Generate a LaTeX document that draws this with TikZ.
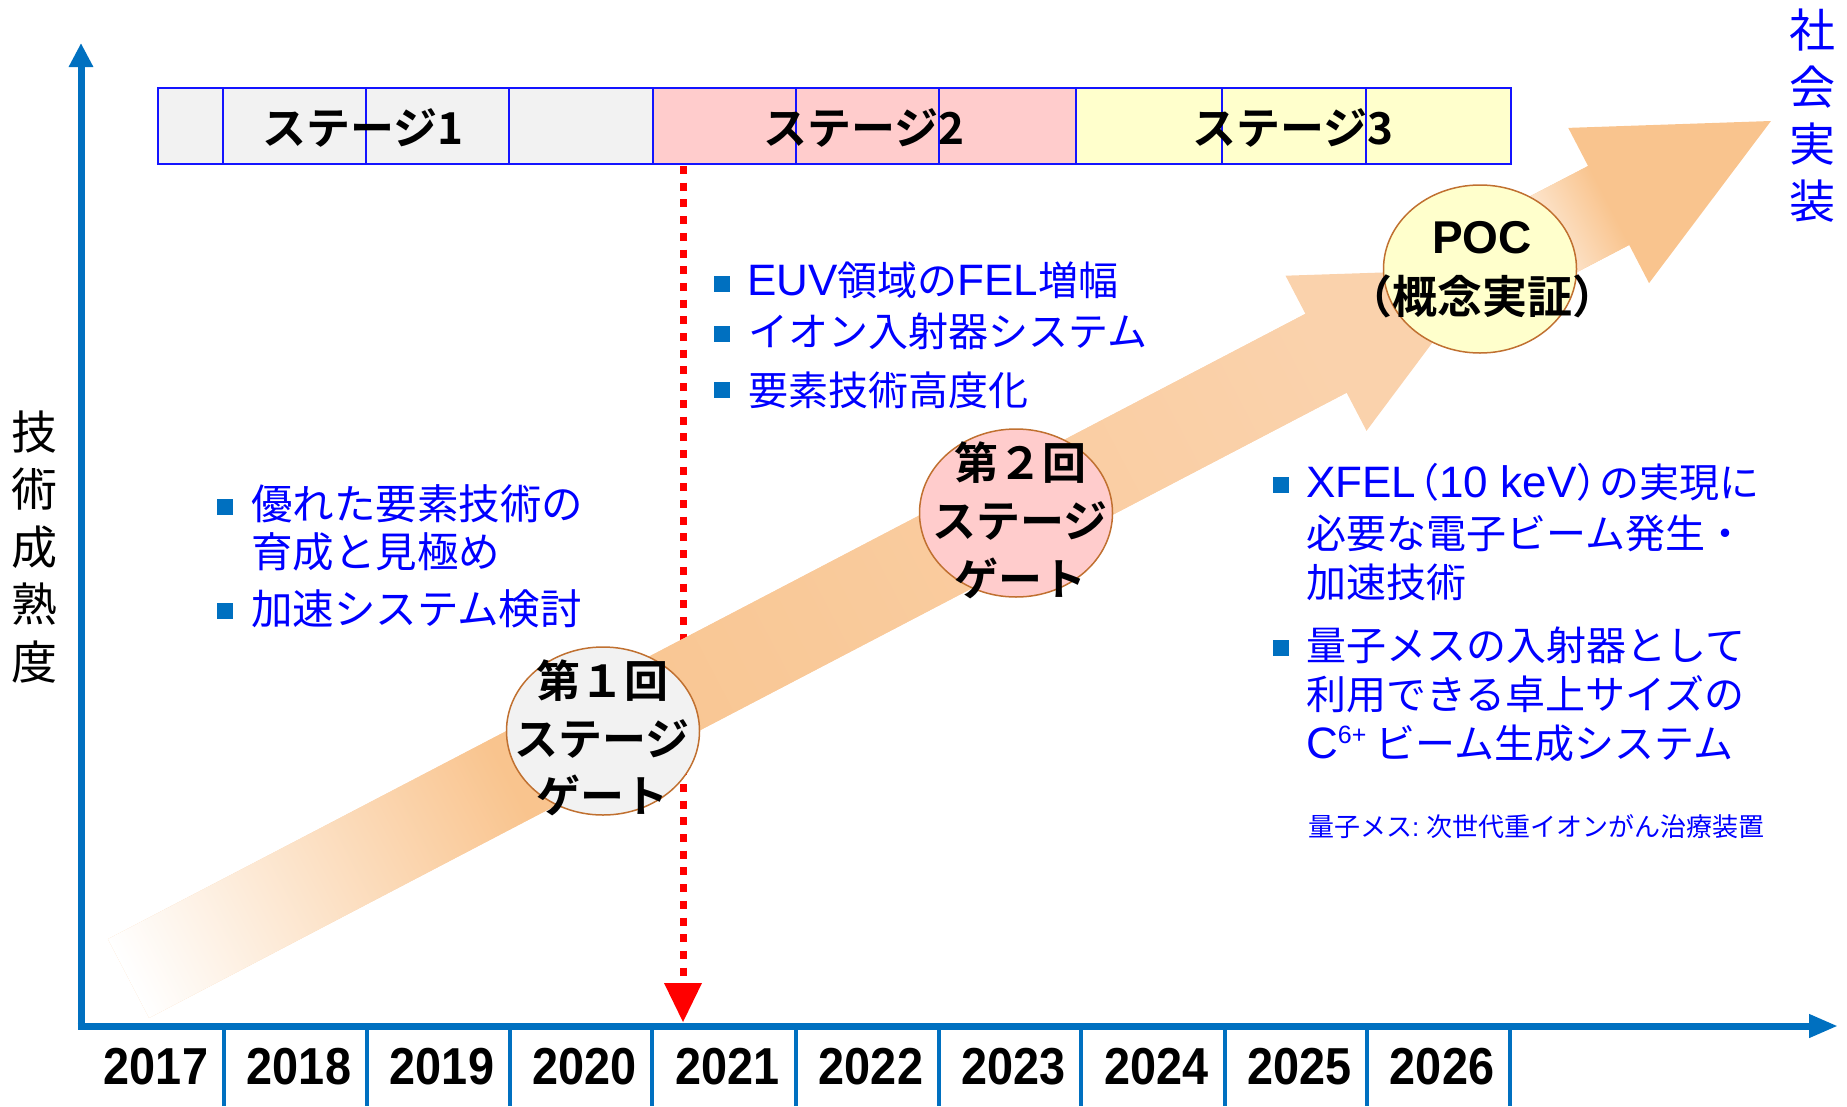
\documentclass[tikz,border=0pt]{standalone}
\usepackage{fontspec}
\usetikzlibrary{shapes.geometric,arrows.meta}
\newfontfamily\jp{Noto Sans CJK JP}[BoldFont={Noto Sans CJK JP Bold}]
\newfontfamily\lat{Liberation Sans}
\newfontfamily\yr{Liberation Sans}[FakeStretch=0.9]
\newcommand{\lt}[1]{{\lat\fontsize{44}{48}\selectfont #1}}
\definecolor{axblue}{RGB}{0,112,192}
\definecolor{barblue}{RGB}{20,20,255}
\definecolor{txtblue}{RGB}{0,0,255}
\definecolor{st1}{RGB}{242,242,242}
\definecolor{st2}{RGB}{255,204,204}
\definecolor{st3}{RGB}{255,255,204}
\definecolor{orA}{RGB}{249,196,142}
\definecolor{orB}{RGB}{250,210,172}
\definecolor{gateline}{RGB}{192,112,48}
\begin{document}
\begin{tikzpicture}[x=1pt,y=-1pt,
  jtxt/.style={inner sep=0pt, anchor=west, text height=35pt, text depth=5pt,
    font=\jp\fontsize{40}{48}\selectfont, text=txtblue},
  jtxtL/.style={jtxt, text height=36.5pt, text depth=5pt,
    font=\jp\fontsize{41.5}{48}\selectfont},
  fntxt/.style={inner sep=0pt, anchor=west, text height=22.9pt, text depth=3.1pt,
    font=\jp\fontsize{26}{30}\selectfont, text=txtblue},
  bsq/.style={fill=axblue, minimum size=16.5pt, inner sep=0pt},
  stlab/.style={inner sep=0pt, text height=38.7pt, text depth=5.3pt,
    font=\jp\bfseries\fontsize{44}{44}\selectfont},
  gateshape/.style={ellipse, draw=gateline, line width=1.5pt, minimum width=193pt,
    minimum height=168pt, inner sep=0pt},
  gtxt/.style={inner sep=0pt, text height=38.7pt, text depth=5.3pt,
    font=\jp\bfseries\fontsize{44}{44}\selectfont},
  yrlab/.style={inner sep=0pt, font=\yr\bfseries\fontsize{52}{52}\selectfont},
  vtxt/.style={inner sep=0pt, align=center, font=\jp\fontsize{46}{57.5}\selectfont}
]
\useasboundingbox (0,0) rectangle (1847,1106);

% stage bar
\foreach \a/\b/\c in {158/223/st1, 223/366/st1, 366/509/st1, 509/653/st1,
  653/796/st2, 796/939/st2, 939/1076/st2, 1076/1222/st3, 1222/1366/st3, 1366/1511/st3}
  \draw[barblue, line width=1.6pt, fill=\c] (\a,88) rectangle (\b,164);
\node[stlab] (s1) at (363,128) {ステージ1};
\node[stlab] (s2) at (864,128) {ステージ2};
\node[stlab] (s3) at (1293,128) {ステージ3};

% axes
\coordinate (O) at (81,1026);
\coordinate (Ox) at (77.5,1026);
\coordinate (ytop) at (81,43);
\coordinate (xend) at (1838,1026);
\draw[axblue, line width=7pt, -{Triangle[width=23pt,length=24pt]}] (O) -- (ytop);
\draw[axblue, line width=7pt, -{Triangle[width=22pt,length=29pt]}] (Ox) -- (xend);
\foreach \x in {224,367,510,652,796,939,1081,1225,1367,1510}
  \draw[axblue, line width=4.5pt] (\x,1029) -- (\x,1106);
\foreach \y/\x in {2017/156, 2018/299, 2019/442, 2020/584.5, 2021/727.5,
  2022/871, 2023/1013.5, 2024/1156.5, 2025/1299.5, 2026/1442}
  \node[yrlab] (y\y) at (\x,1067) {\y};

% red dotted arrow
\coordinate (rtop) at (683,166);
\coordinate (rbot) at (683,983);
\draw[red, line width=7pt, dash pattern=on 8pt off 8.7pt] (rtop) -- (rbot);
\fill[red] (664,983) -- (702,983) -- (683,1022) -- cycle;

% big band arrow 1
\begin{scope}[transform canvas={shift={(128.5,978.5)}, rotate=27.57}]
  \fill[orB] (0,-44.5) -- (1351,-44.5) -- (1351,-87.5) -- (1533,0) -- (1351,87.5) -- (1351,44.5) -- (0,44.5) -- cycle;
  \shade[left color=white, right color=orA] (0,-44.5) rectangle (430,44.5);
  \shade[left color=orA, right color=orB] (429.5,-44.5) rectangle (1351.5,44.5);
\end{scope}
% band arrow 2
\begin{scope}[transform canvas={shift={(1502.2,260.9)}, rotate=27.5}]
  \fill[orA] (0,-44.5) -- (120,-44.5) -- (120,-87.5) -- (303,0) -- (120,87.5) -- (120,44.5) -- (0,44.5) -- cycle;
  \shade[left color=white, right color=orA] (0,-44.5) rectangle (120.5,44.5);
\end{scope}

% gates
\node[gateshape, fill=st1] (g1) at (603,731) {};
\node[gtxt] (g1a) at (602,681) {第１回};
\node[gtxt] (g1b) at (602,739) {ステージ};
\node[gtxt] (g1c) at (602,796) {ゲート};

\node[gateshape, fill=st2] (g2) at (1016,513) {};
\node[gtxt] (g2a) at (1020,463) {第２回};
\node[gtxt] (g2b) at (1020,521) {ステージ};
\node[gtxt] (g2c) at (1020,579) {ゲート};

\node[gateshape, fill=st3] (g3) at (1480,269) {};
\node[inner sep=0pt, font=\lat\bfseries\fontsize{46}{46}\selectfont] (g3a) at (1482,238) {POC};
\node[gtxt, font=\jp\bfseries\fontsize{45}{45}\selectfont] (g3b) at (1482,297) {（概念実証）};

% axis labels
\node[vtxt] (ylab) at (35,547) {技\\術\\成\\熟\\度};
\node[vtxt, text=txtblue, font=\jp\fontsize{46}{57}\selectfont] (shakai) at (1812,116) {社\\会\\実\\装};

% left block
\node[bsq] (lb1) at (225,507) {};
\node[jtxtL] (lt1) at (251,504) {優れた要素技術の};
\node[jtxtL] (lt2) at (251,552) {育成と見極め};
\node[bsq] (lb2) at (225,611) {};
\node[jtxtL] (lt3) at (251,609) {加速システム検討};

% middle block
\node[bsq] (mb1) at (722,284) {};
\node[jtxt] (mt1) at (747,280) {\lt{EUV}領域の\lt{FEL}増幅};
\node[bsq] (mb2) at (722,334) {};
\node[jtxt] (mt2) at (748,331) {イオン入射器システム};
\node[bsq] (mb3) at (722,390) {};
\node[jtxt] (mt3) at (748,390) {要素技術高度化};

% right block
\node[bsq] (rb1) at (1281,485) {};
\node[jtxt] (rt1) at (1306,482) {\lt{XFEL}\kern-0.42em（\lt{10 keV}）\kern-0.42em の実現に};
\node[jtxt] (rt2) at (1306,533) {必要な電子ビーム発生・};
\node[jtxt] (rt3) at (1306,582) {加速技術};
\node[bsq] (rb2) at (1281,648) {};
\node[jtxt] (rt4) at (1306,645) {量子メスの入射器として};
\node[jtxt] (rt5) at (1306,694) {利用できる卓上サイズの};
\node[jtxt] (rt6) at (1306,743) {\lt{C\raisebox{15pt}{\fontsize{25}{25}\selectfont 6+}\kern9pt}ビーム生成システム};
\node[fntxt] (fn) at (1308,827) {量子メス{\lat :\ }次世代重イオンがん治療装置};
\end{tikzpicture}
\end{document}
